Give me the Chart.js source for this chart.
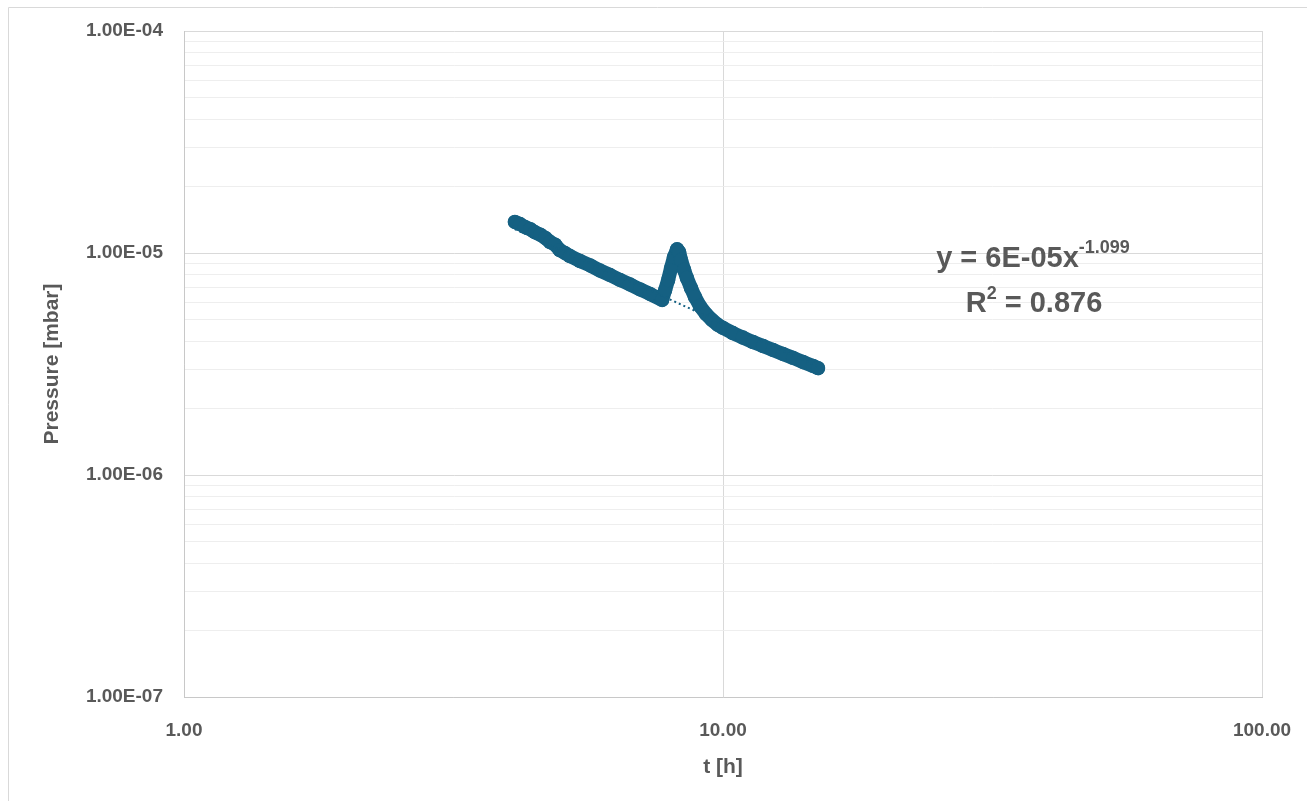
<!DOCTYPE html>
<html>
<head>
<meta charset="utf-8">
<script src="https://cdn.jsdelivr.net/npm/chart.js@4"></script>
<style>
html, body { margin: 0; padding: 0; background: #fff; }
#wrap { position: relative; width: 1307px; height: 801px; }
</style>
</head>
<body>
<div id="wrap"><canvas id="chart" width="1307" height="801"></canvas></div>
<script>
const tHours = [
  4.11, 4.20, 4.29, 4.39, 4.48, 4.58, 4.68, 4.78, 4.88, 4.98, 5.09, 5.20,
  5.43, 5.67, 5.91, 6.17, 6.44, 6.72, 7.02, 7.32, 7.71,
  7.81, 7.91, 8.01, 8.11, 8.22,
  8.29, 8.36, 8.47, 8.57, 8.72, 8.87, 9.06, 9.30, 9.54, 9.79, 10.00,
  10.43, 10.89, 11.37, 11.87, 12.38, 12.92, 13.49, 14.07, 14.69, 15.01
];
const pressureMbar = [
  1.38e-5, 1.35e-5, 1.31e-5, 1.28e-5, 1.24e-5, 1.21e-5, 1.17e-5, 1.12e-5, 1.09e-5, 1.03e-5, 1.00e-5, 9.69e-6,
  9.20e-6, 8.79e-6, 8.34e-6, 7.96e-6, 7.56e-6, 7.22e-6, 6.85e-6, 6.54e-6, 6.14e-6,
  6.81e-6, 7.56e-6, 8.56e-6, 9.59e-6, 1.04e-5,
  1.01e-5, 9.30e-6, 8.39e-6, 7.72e-6, 6.96e-6, 6.34e-6, 5.77e-6, 5.31e-6, 4.99e-6, 4.74e-6, 4.60e-6,
  4.36e-6, 4.16e-6, 3.97e-6, 3.81e-6, 3.66e-6, 3.51e-6, 3.37e-6, 3.23e-6, 3.10e-6, 3.03e-6
];

// trendlinie (potenz), endpunkte
const trendT = [4.11, 15.0];
const trendP = [1.28e-5, 3.08e-6];

const xTickValues = [1, 10, 100];
const xTickLabels = ['1.00', '10.00', '100.00'];
const yTickValues = [1e-7, 1e-6, 1e-5, 1e-4];
const yTickLabels = ['1.00E-07', '1.00E-06', '1.00E-05', '1.00E-04'];

const eqMain = 'y = 6E-05x';
const eqExp = '-1.099';
const r2Value = ' = 0.876';

const blue = '#156082';
const grey = '#595959';
const fam = '"Liberation Sans", Arial, sans-serif';

function isDecade(v) {
  const l = Math.log10(v);
  return Math.abs(l - Math.round(l)) < 1e-6;
}

// Rahmen + Gleichung
const annotate = {
  id: 'annotate',
  beforeDraw(chart) {
    const c = chart.ctx;
    c.save();
    c.strokeStyle = '#d9d9d9';
    c.lineWidth = 1;
    c.beginPath();
    c.moveTo(8.5, 801);
    c.lineTo(8.5, 7.5);
    c.lineTo(1307, 7.5);
    c.stroke();
    c.restore();
  },
  afterDatasetsDraw(chart) {
    const c = chart.ctx;
    c.save();
    c.fillStyle = grey;
    c.textBaseline = 'alphabetic';
    c.textAlign = 'left';
    // zeile 1
    c.font = 'bold 29px ' + fam;
    const w1 = c.measureText(eqMain).width;
    c.font = 'bold 18px ' + fam;
    const w2 = c.measureText(eqExp).width;
    let x = 1033 - (w1 + w2) / 2;
    c.font = 'bold 29px ' + fam;
    c.fillText(eqMain, x, 267);
    c.font = 'bold 18px ' + fam;
    c.fillText(eqExp, x + w1, 253);
    // zeile 2
    c.font = 'bold 29px ' + fam;
    const wr = c.measureText('R').width;
    const wv = c.measureText(r2Value).width;
    c.font = 'bold 18px ' + fam;
    const ws = c.measureText('2').width;
    x = 1034 - (wr + ws + wv) / 2;
    c.font = 'bold 29px ' + fam;
    c.fillText('R', x, 312);
    c.fillText(r2Value, x + wr + ws, 312);
    c.font = 'bold 18px ' + fam;
    c.fillText('2', x + wr, 299);
    c.restore();
  }
};

const ctx = document.getElementById('chart').getContext('2d');

new Chart(ctx, {
  type: 'scatter',
  data: {
    datasets: [
      {
        label: 'Trend',
        data: trendT.map((t, i) => ({ x: t, y: trendP[i] })),
        showLine: true,
        borderColor: blue,
        borderWidth: 2,
        borderDash: [2, 3],
        pointRadius: 0,
        order: 0
      },
      {
        label: 'Druck',
        data: tHours.map((t, i) => ({ x: t, y: pressureMbar[i] })),
        showLine: true,
        borderColor: blue,
        backgroundColor: blue,
        borderWidth: 14,
        borderCapStyle: 'round',
        borderJoinStyle: 'round',
        pointRadius: 7.2,
        pointBorderWidth: 0,
        order: 1
      }
    ]
  },
  options: {
    responsive: false,
    animation: false,
    devicePixelRatio: 1,
    layout: { padding: { left: 0, top: 31, right: 45, bottom: 0 } },
    plugins: {
      legend: { display: false },
      tooltip: { enabled: false }
    },
    scales: {
      x: {
        type: 'logarithmic',
        min: 1,
        max: 100,
        afterBuildTicks: s => { s.ticks = xTickValues.map(v => ({ value: v })); },
        afterFit: s => { s.height = 104; },
        ticks: {
          autoSkip: false,
          maxRotation: 0,
          padding: 0,
          color: grey,
          font: { family: fam, size: 19, weight: 'bold' },
          callback: (v, i) => xTickLabels[i]
        },
        grid: { drawTicks: true, tickLength: 22, tickColor: 'rgba(0,0,0,0)', color: '#d9d9d9' },
        border: { display: true, color: '#c8c8c8' },
        title: {
          display: true,
          text: 't [h]',
          color: grey,
          font: { family: fam, size: 21, weight: 'bold' },
          padding: { top: 0, bottom: 21 }
        }
      },
      y: {
        type: 'logarithmic',
        min: 1e-7,
        max: 1e-4,
        afterBuildTicks: s => {
          const vals = [];
          for (let e = -7; e < -4; e++) {
            for (let m = 1; m < 10; m++) vals.push(m * Math.pow(10, e));
          }
          vals.push(1e-4);
          s.ticks = vals.map(v => ({ value: v }));
        },
        afterFit: s => { s.width = 184; },
        ticks: {
          autoSkip: false,
          padding: 0,
          color: grey,
          font: { family: fam, size: 19, weight: 'bold' },
          callback: v => {
            const i = yTickValues.findIndex(d => Math.abs(d - v) / d < 1e-6);
            return i >= 0 ? yTickLabels[i] : '';
          }
        },
        grid: {
          drawTicks: true,
          tickLength: 21,
          tickColor: 'rgba(0,0,0,0)',
          color: c => (c.tick && isDecade(c.tick.value)) ? '#d9d9d9' : '#eeeeee'
        },
        border: { display: true, color: '#c8c8c8' },
        title: {
          display: true,
          text: 'Pressure [mbar]',
          color: grey,
          font: { family: fam, size: 21, weight: 'bold' },
          padding: { top: 40, bottom: 0 }
        }
      }
    }
  },
  plugins: [annotate]
});
</script>
</body>
</html>
